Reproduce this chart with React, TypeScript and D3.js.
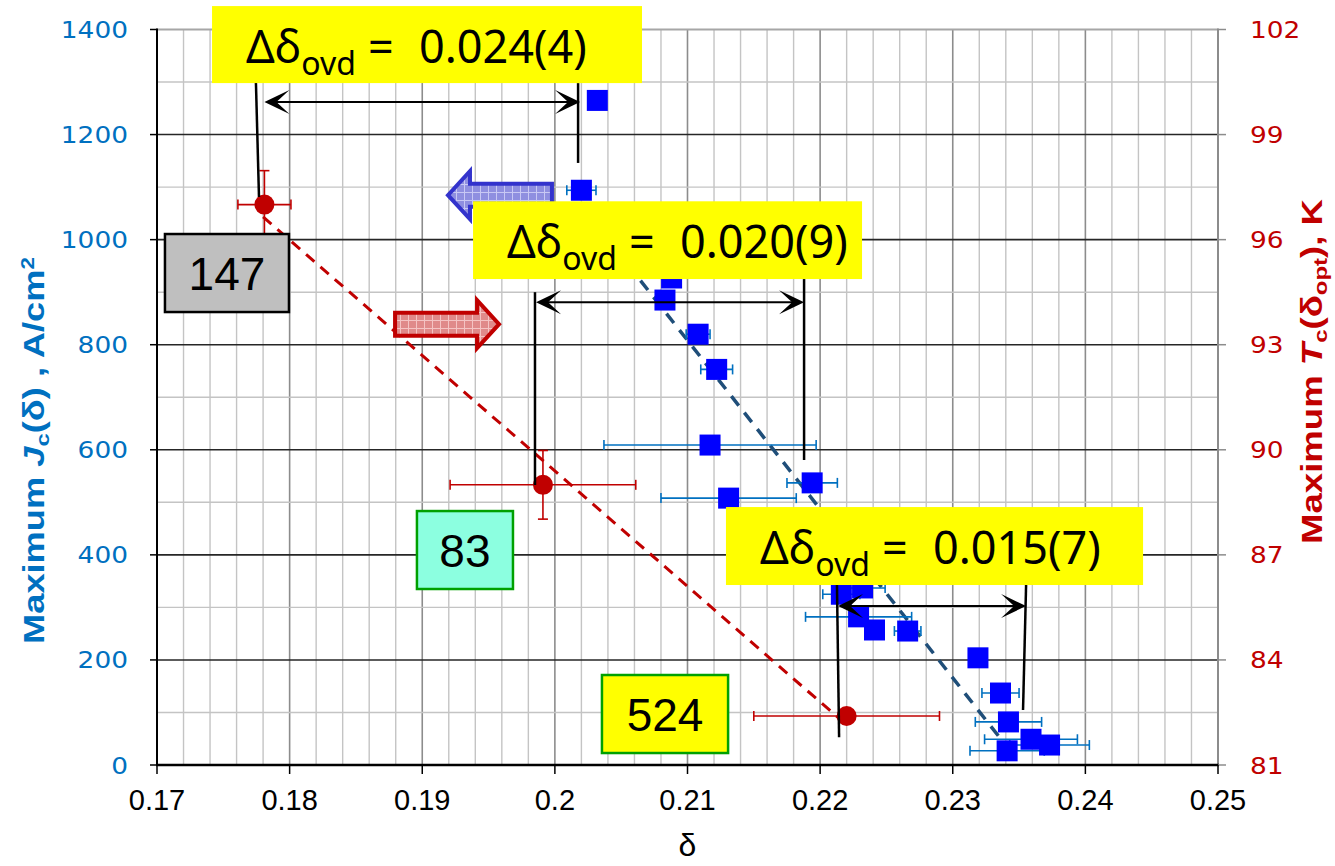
import React from "react";
import * as d3 from "d3";

// ---- Jc(δ) series (left axis) ----
const deltaJc = [0.2032, 0.2020, 0.2088, 0.2083, 0.2108, 0.2122, 0.2117, 0.2194, 0.2131, 0.2216,
  0.2232, 0.2229, 0.2241, 0.2266, 0.2319, 0.2336, 0.2342, 0.2359, 0.2373, 0.2341];
const jcValues = [1265, 1094, 927, 885, 820, 753, 609, 537, 508, 325,
  337, 282, 257, 255, 204, 137, 82, 49, 38, 27];
const deltaJcErr = [0, 0.0011, 0, 0, 0.0009, 0.0012, 0.0080, 0.0019, 0.0051, 0.0014,
  0.0017, 0.0040, 0, 0.0010, 0, 0.0014, 0.0025, 0.0035, 0.0030, 0.0028];

// ---- Tc(δopt) series (right axis) ----
const deltaTc = [0.1781, 0.1991, 0.2220];
const tcValues = [97.0, 89.0, 82.4];
const deltaTcErr = [0.0020, 0.0070, 0.0070];
const tcErr = [0.97, 0.98, 0];

// linear trend lines [δ, value]
const jcFit = [[0.2045, 985], [0.2347, 15]];
const tcFit = [[0.1780, 96.65], [0.2214, 82.34]];

// axes
const xTicks = [0.17, 0.18, 0.19, 0.2, 0.21, 0.22, 0.23, 0.24, 0.25];
const xTickLabels = ["0.17", "0.18", "0.19", "0.2", "0.21", "0.22", "0.23", "0.24", "0.25"];
const jcTicks = [0, 200, 400, 600, 800, 1000, 1200, 1400];
const tcTicks = [81, 84, 87, 90, 93, 96, 99, 102];

// overlap-width annotations
const ovdLabels = ["0.024(4)", "0.020(9)", "0.015(7)"];
const ovdBoxDelta = [[0.17415, 0.20657], [0.19383, 0.22316], [0.21290, 0.24435]];
const ovdBoxJc = [[1444.6, 1298], [1073, 925], [491, 342.6]];
const ovdSpanDelta = [[0.1781, 0.2019], [0.19858, 0.21879], [0.22135, 0.23553]];
const ovdSpanJc = [1262, 881, 302.6];
const ovdLeaders = [
  [[0.17746, 1298, 0.17769, 1081], [0.20175, 1298, 0.20175, 1146]],
  [[0.19850, 900, 0.19850, 533], [0.21879, 925, 0.21879, 580.5]],
  [[0.22127, 342.6, 0.22143, 53], [0.23553, 342.6, 0.23530, 104.7]],
];

// sample tags
const tagLabels = ["147", "83", "524"];
const tagDelta = [[0.17060, 0.17995], [0.18960, 0.19684], [0.20355, 0.21306]];
const tagJc = [[1010.7, 862.2], [483.4, 335], [171.3, 22.8]];
const tagFill = ["#bfbfbf", "#8cffe0", "#ffff00"];
const tagStroke = ["#000000", "#00a000", "#00a000"];

// direction arrows [tail δ, tip δ, Jc]
const blueArrow = [0.19978, 0.19194, 1084.6];
const redArrow = [0.18795, 0.19579, 839];

const W = 1335;
const H = 866;
const X0 = 157, X1 = 1218, Y0 = 765, Y1 = 29.5;

const x = d3.scaleLinear().domain([0.17, 0.25]).range([X0, X1]);
const yJ = d3.scaleLinear().domain([0, 1400]).range([Y0, Y1]);
const yT = d3.scaleLinear().domain([81, 102]).range([Y0, Y1]);

const line = d3.line<number[]>();

function fatArrow(xTail: number, xTip: number, yc: number) {
  const dir = xTip > xTail ? 1 : -1;
  const headLen = 22, headH = 24, bodyH = 11.5;
  const xb = xTip - dir * headLen;
  const pts: [number, number][] = [
    [xTail, yc - bodyH], [xb, yc - bodyH], [xb, yc - headH], [xTip, yc],
    [xb, yc + headH], [xb, yc + bodyH], [xTail, yc + bodyH],
  ];
  return d3.line()(pts) + "Z";
}

function arrowHead(tx: number, ty: number, dir: number) {
  // concave (stealth) head pointing in direction dir (+1 right, -1 left)
  const L = 25, Hh = 12, notch = 12;
  return `M${tx},${ty} L${tx - dir * L},${ty - Hh} L${tx - dir * notch},${ty} L${tx - dir * L},${ty + Hh} Z`;
}

export default function App() {
  const minorX = d3.range(0, 41).map((i) => 0.17 + i * 0.002);
  const gridY = d3.range(0, 15).map((i) => i * 100);
  const annoFont = "'Noto Sans', 'DejaVu Sans', sans-serif";
  const tickFont = "'DejaVu Sans', sans-serif";
  const axisFont = "'Liberation Sans', Arial, sans-serif";

  return (
    <svg width={W} height={H} style={{ position: "absolute", left: 0, top: 0, background: "#fff" }}>
      <defs>
        <pattern id="hatchBlue" width="8" height="8" patternUnits="userSpaceOnUse">
          <rect width="8" height="8" fill="#8f8fe0" />
          <path d="M0,0.5H8M0.5,0V8" stroke="#c8c8f4" strokeWidth="1" />
        </pattern>
        <pattern id="hatchRed" width="8" height="8" patternUnits="userSpaceOnUse">
          <rect width="8" height="8" fill="#e08a8a" />
          <path d="M0,0.5H8M0.5,0V8" stroke="#f4c4c4" strokeWidth="1" />
        </pattern>
      </defs>

      {/* grid */}
      <g>
        {minorX.map((v, i) => (
          <line key={"vx" + i} x1={x(v)} x2={x(v)} y1={Y1} y2={Y0}
            stroke={i % 5 === 0 ? "#8c8c8c" : "#c4c4c4"} strokeWidth={i % 5 === 0 ? 1.6 : 1.4} />
        ))}
        {gridY.map((v, i) => (
          <line key={"hy" + i} x1={X0} x2={X1} y1={yJ(v)} y2={yJ(v)}
            stroke={v === 1400 ? "#a6a6a6" : i % 2 === 0 ? "#262626" : "#c4c4c4"}
            strokeWidth={v === 1400 ? 2 : i % 2 === 0 ? 1.6 : 1.4} />
        ))}
      </g>

      {/* axes */}
      <line x1={X0} x2={X0} y1={Y1 - 1} y2={Y0 + 1} stroke="#000" strokeWidth={2} />
      <line x1={X1} x2={X1} y1={Y1 - 1} y2={Y0} stroke="#8c8c8c" strokeWidth={2} />
      <line x1={X0 - 1} x2={X1 + 1} y1={Y0} y2={Y0} stroke="#000" strokeWidth={2.5} />
      {jcTicks.map((t) => (
        <line key={"jt" + t} x1={X0 - 7} x2={X0} y1={yJ(t)} y2={yJ(t)} stroke="#000" strokeWidth={1.5} />
      ))}
      {tcTicks.map((t) => (
        <line key={"tt" + t} x1={X1} x2={X1 + 8} y1={yT(t)} y2={yT(t)} stroke="#8c8c8c" strokeWidth={1.5} />
      ))}
      {xTicks.map((t) => (
        <line key={"xt" + t} x1={x(t)} x2={x(t)} y1={Y0} y2={Y0 + 9} stroke="#000" strokeWidth={1.5} />
      ))}

      {/* tick labels */}
      {jcTicks.map((t) => (
        <text key={"jl" + t} x={128} y={yJ(t) + 8.5} textAnchor="end" fontFamily={tickFont} fontSize={23}
          fill="#0070c0" textLength={String(t).length * 16.8} lengthAdjust="spacingAndGlyphs">{t}</text>
      ))}
      {tcTicks.map((t) => (
        <text key={"tl" + t} x={1250} y={yT(t) + 8.5} textAnchor="start" fontFamily={tickFont} fontSize={23}
          fill="#c00000" textLength={String(t).length * 16.8} lengthAdjust="spacingAndGlyphs">{t}</text>
      ))}
      {xTicks.map((t, i) => (
        <text key={"xl" + t} x={x(t)} y={810} textAnchor="middle" fontFamily={axisFont} fontSize={29}
          fill="#000">{xTickLabels[i]}</text>
      ))}
      <text x={x(0.21)} y={856} textAnchor="middle" fontFamily={axisFont} fontSize={32} fill="#000">δ</text>

      {/* axis titles */}
      <text transform="translate(44,644) rotate(-90)" fontFamily={axisFont} fontWeight="bold" fontSize={29}
        fill="#0070c0" textLength={387} lengthAdjust="spacingAndGlyphs">
        <tspan>Maximum  </tspan>
        <tspan fontStyle="italic">J</tspan>
        <tspan fontSize={19} dy={5}>c</tspan>
        <tspan dy={-5}>(δ) , A/cm</tspan>
        <tspan fontSize={18} dy={-10}>2</tspan>
      </text>
      <text transform="translate(1322,544) rotate(-90)" fontFamily={axisFont} fontWeight="bold" fontSize={29}
        fill="#c00000" textLength={345} lengthAdjust="spacingAndGlyphs">
        <tspan>Maximum  </tspan>
        <tspan fontStyle="italic">T</tspan>
        <tspan fontSize={19} dy={5}>c</tspan>
        <tspan dy={-5}>(δ</tspan>
        <tspan fontSize={19} dy={5}>opt</tspan>
        <tspan dy={-5}>), K</tspan>
      </text>

      {/* trend lines */}
      <path d={line(tcFit.map((p) => [x(p[0]), yT(p[1])]) as any) || ""} fill="none" stroke="#c00000"
        strokeWidth={3} strokeDasharray="11 8" />
      <path d={line(jcFit.map((p) => [x(p[0]), yJ(p[1])]) as any) || ""} fill="none" stroke="#1f4e79"
        strokeWidth={3.5} strokeDasharray="12 9" />

      {/* Jc error bars and points */}
      {deltaJc.map((d, i) => {
        const e = deltaJcErr[i];
        if (!e) return null;
        const yy = yJ(jcValues[i]);
        const a = x(d - e), b = x(d + e);
        return (
          <g key={"je" + i} stroke="#0070c0" strokeWidth={1.6}>
            <line x1={a} x2={b} y1={yy} y2={yy} />
            <line x1={a} x2={a} y1={yy - 5} y2={yy + 5} />
            <line x1={b} x2={b} y1={yy - 5} y2={yy + 5} />
          </g>
        );
      })}
      {deltaJc.map((d, i) => (
        <rect key={"jp" + i} x={x(d) - 10.5} y={yJ(jcValues[i]) - 10.5} width={21} height={21} fill="#0000ff" />
      ))}

      {/* Tc error bars and points */}
      {deltaTc.map((d, i) => {
        const yy = yT(tcValues[i]);
        const cx = x(d);
        const a = x(d - deltaTcErr[i]), b = x(d + deltaTcErr[i]);
        const t = tcErr[i];
        return (
          <g key={"te" + i} stroke="#c00000" strokeWidth={1.6}>
            <line x1={a} x2={b} y1={yy} y2={yy} />
            <line x1={a} x2={a} y1={yy - 5} y2={yy + 5} />
            <line x1={b} x2={b} y1={yy - 5} y2={yy + 5} />
            {t > 0 && (
              <>
                <line x1={cx} x2={cx} y1={yT(tcValues[i] + t)} y2={yT(tcValues[i] - t)} />
                <line x1={cx - 5} x2={cx + 5} y1={yT(tcValues[i] + t)} y2={yT(tcValues[i] + t)} />
                <line x1={cx - 5} x2={cx + 5} y1={yT(tcValues[i] - t)} y2={yT(tcValues[i] - t)} />
              </>
            )}
          </g>
        );
      })}
      {deltaTc.map((d, i) => (
        <circle key={"tp" + i} cx={x(d)} cy={yT(tcValues[i])} r={10} fill="#c00000" />
      ))}

      {/* sample tags */}
      {tagLabels.map((lab, i) => {
        const bx = x(tagDelta[i][0]), bx1 = x(tagDelta[i][1]);
        const by = yJ(tagJc[i][0]), by1 = yJ(tagJc[i][1]);
        return (
          <g key={"tag" + i}>
            <rect x={bx} y={by} width={bx1 - bx} height={by1 - by} fill={tagFill[i]} stroke={tagStroke[i]} strokeWidth={2.5} />
            <text x={(bx + bx1) / 2} y={(by + by1) / 2 + 16.5} textAnchor="middle" fontFamily={axisFont}
              fontSize={46} fill="#000">{lab}</text>
          </g>
        );
      })}

      {/* direction arrows */}
      <path d={fatArrow(x(blueArrow[0]), x(blueArrow[1]), yJ(blueArrow[2]))} fill="url(#hatchBlue)"
        stroke="#3333cc" strokeWidth={4} strokeLinejoin="miter" />
      <path d={fatArrow(x(redArrow[0]), x(redArrow[1]), yJ(redArrow[2]))} fill="url(#hatchRed)"
        stroke="#c00000" strokeWidth={4} strokeLinejoin="miter" />

      {/* overlap annotations */}
      {ovdLabels.map((lab, i) => {
        const bx = x(ovdBoxDelta[i][0]), bx1 = x(ovdBoxDelta[i][1]);
        const by = yJ(ovdBoxJc[i][0]), by1 = yJ(ovdBoxJc[i][1]);
        const sx0 = x(ovdSpanDelta[i][0]), sx1 = x(ovdSpanDelta[i][1]);
        const sy = yJ(ovdSpanJc[i]);
        return (
          <g key={"ovd" + i}>
            {ovdLeaders[i].map((l, k) => (
              <line key={k} x1={x(l[0])} y1={yJ(l[1])} x2={x(l[2])} y2={yJ(l[3])} stroke="#000" strokeWidth={2.5} />
            ))}
            <line x1={sx0 + 10} x2={sx1 - 10} y1={sy} y2={sy} stroke="#000" strokeWidth={2} />
            <path d={arrowHead(sx0, sy, -1)} fill="#000" />
            <path d={arrowHead(sx1, sy, 1)} fill="#000" />
            <rect x={bx} y={by} width={bx1 - bx} height={by1 - by} fill="#ffff00" />
            <text y={by + 57} fontFamily={annoFont} fontSize={45} fill="#000">
              <tspan x={bx + 34}>Δδ</tspan>
              <tspan fontSize={32} dy={12}>ovd</tspan>
              <tspan x={bx + 156} dy={-12}>=</tspan>
              <tspan x={bx + 207}>{lab}</tspan>
            </text>
          </g>
        );
      })}
    </svg>
  );
}
